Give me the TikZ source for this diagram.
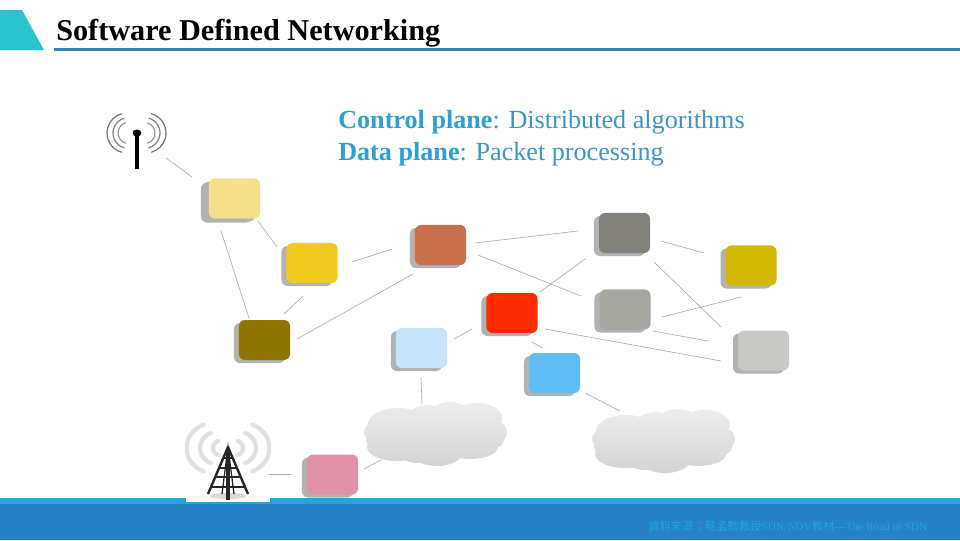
\documentclass[tikz,border=0pt]{standalone}
\usepackage{fontspec}
\setmainfont{Liberation Serif}
\newfontfamily\cjkfont{Noto Sans CJK TC}
\usepackage{xcolor}
\usepackage{tikz}
\usetikzlibrary{shadows}
\definecolor{swpale}{RGB}{245,223,138}
\definecolor{swyellow}{RGB}{242,202,31}
\definecolor{swbrown}{RGB}{201,111,74}
\definecolor{swdgrey}{RGB}{130,130,122}
\definecolor{swgold}{RGB}{210,184,0}
\definecolor{swmgrey}{RGB}{166,166,160}
\definecolor{swlgrey}{RGB}{200,200,196}
\definecolor{swred}{RGB}{255,42,0}
\definecolor{swsky}{RGB}{95,189,245}
\definecolor{swpblue}{RGB}{197,228,249}
\definecolor{swolive}{RGB}{143,116,0}
\definecolor{swpink}{RGB}{224,145,168}
\definecolor{boxshadow}{RGB}{178,178,178}
\definecolor{linkgrey}{RGB}{170,170,170}
\definecolor{hdrteal}{RGB}{42,195,206}
\definecolor{hdrblue}{RGB}{58,127,181}
\definecolor{ftcyan}{RGB}{28,169,224}
\definecolor{ftblue}{RGB}{38,129,198}
\definecolor{txtbold}{RGB}{46,159,214}
\definecolor{txtlight}{RGB}{60,150,196}
\tikzset{
  switchbox/.style={rectangle, fill=#1, rounded corners=0.15cm,
    minimum width=1.275cm, minimum height=1cm, inner sep=0pt, outer sep=0pt,
    general shadow={fill=boxshadow, shadow xshift=-0.125cm, shadow yshift=-0.075cm}},
  link/.style={color=linkgrey, line width=0.45pt},
  puffcloud/.pic={
    \shade[top color=gray!14, bottom color=gray!34]
      (-62,-2) ellipse [x radius=10, y radius=9]
      (-38,-10) ellipse [x radius=30, y radius=16]
      (-8,-14) ellipse [x radius=22, y radius=15]
      (14,-17) ellipse [x radius=22, y radius=15]
      (41,-16) ellipse [x radius=25, y radius=15]
      (62,-2) ellipse [x radius=9, y radius=10]
      (54,6) ellipse [x radius=14, y radius=9]
      (34,13) ellipse [x radius=28, y radius=12]
      (1,19) ellipse [x radius=25, y radius=13]
      (-18,16) ellipse [x radius=22, y radius=13]
      (-39,13) ellipse [x radius=30, y radius=14]
      (-58,6) ellipse [x radius=12, y radius=8]
      (0,0) ellipse [x radius=60, y radius=24];
  }
}
\begin{document}
\begin{tikzpicture}[x=0.025cm, y=-0.025cm]
  \useasboundingbox (0,0) rectangle (960,540);
  \fill[white] (0,0) rectangle (960,540);

  % Header
  \fill[hdrteal] (0,10) -- (22,10) -- (44,50) -- (0,50) -- cycle;
  \fill[hdrblue] (54,48) rectangle (960,50.5);
  \node[anchor=base west, inner sep=0pt, font=\fontsize{21.5}{25}\selectfont\bfseries] (title) at (56,40) {Software Defined Networking};

  % Footer
  \fill[ftcyan] (0,498) rectangle (960,504);
  \fill[ftblue] (0,504) rectangle (960,540);
  \fill[white] (186,490) rectangle (270,502);
  \node[anchor=base west, inner sep=0pt, text=ftcyan, font=\fontsize{8.05}{9}\selectfont] (source) at (648,530) {{\cjkfont 資料來源：蔡孟勳教授}SDN/NDV{\cjkfont 教材}—The Road to SDN};

  % Plane labels
  \node[anchor=base west, inner sep=0pt, text=txtlight, font=\fontsize{18.6}{22}\selectfont] (control) at (338,128) {\textcolor{txtbold}{\bfseries Control plane}: Distributed algorithms};
  \node[anchor=base west, inner sep=0pt, text=txtlight, font=\fontsize{18.6}{22}\selectfont] (data) at (338,160) {\textcolor{txtbold}{\bfseries Data plane}: Packet processing};

  % Wireless antenna
  \coordinate (antenna) at (137,140);
  \foreach \r/\c/\g in {20/127/55, 15.4/128.4/50, 10.6/128.6/40} {
    \draw[color=black!\g, line width=0.85pt] (\c,133) ++(105:\r) arc[start angle=105, end angle=255, radius=\r];
    \draw[color=black!\g, line width=0.85pt] (273-\c,133) ++(-75:\r) arc[start angle=-75, end angle=75, radius=\r];
  }
  \draw[black, line width=2.4pt] (137,133) -- (137,169);
  \fill[black] (137,133) ellipse [x radius=4.5, y radius=3.5];

  % Cell tower
  \coordinate (tower) at (228,460);
  \foreach \r/\c in {24.3/211, 15.7/215.7, 7.5/220.5} {
    \draw[color=black!12, line width=3pt, line cap=round] (\c,448) ++(108:\r) arc[start angle=108, end angle=252, radius=\r];
    \draw[color=black!12, line width=3pt, line cap=round] (456-\c,448) ++(-72:\r) arc[start angle=-72, end angle=72, radius=\r];
  }
  \fill[black!15] (228,496) ellipse [x radius=18, y radius=3];
  \draw[black!85, line width=1.7pt, line join=round] (208,494) -- (228,447) -- (248,494);
  \draw[black!85, line width=0.9pt] (222,494) -- (228,447) -- (234,494);
  \draw[black!85, line width=2.6pt] (228,449) -- (228,500);
  \draw[black!85, line width=1.1pt] (223.3,458) -- (232.7,458);
  \draw[black!85, line width=1.1pt] (219,468) -- (237,468);
  \draw[black!85, line width=1.1pt] (215.2,477) -- (240.8,477);
  \draw[black!85, line width=1.1pt] (211,487) -- (245,487);

  % Clouds
  \coordinate (cloudA) at (436,434);
  \coordinate (cloudB) at (664,441);
  \pic at (cloudA) {puffcloud};
  \pic at (cloudB) {puffcloud};

  % Switches
  \node[switchbox=swpale, general shadow={fill=boxshadow, shadow xshift=-0.2cm, shadow yshift=-0.1cm}] (pale) at (234.5,198.5) {};
  \node[switchbox=swyellow] (yellow) at (312,263) {};
  \node[switchbox=swbrown] (brown) at (440.5,245) {};
  \node[switchbox=swdgrey] (dgrey) at (624.5,233) {};
  \node[switchbox=swgold] (gold) at (751,265.5) {};
  \node[switchbox=swmgrey] (mgrey) at (625,309.5) {};
  \node[switchbox=swlgrey] (lgrey) at (763.5,350.5) {};
  \node[switchbox=swred] (red) at (512,313) {};
  \node[switchbox=swsky] (sky) at (554.5,373) {};
  \node[switchbox=swpblue] (pblue) at (421.5,348) {};
  \node[switchbox=swolive] (olive) at (264.5,340) {};
  \node[switchbox=swpink] (pink) at (332.5,474.5) {};

  % Links
  \draw[link] ([shift={(29,18)}]antenna) -- ([shift={(-42.5,-21.5)}]pale.center);
  \draw[link] ([shift={(23.5,22.5)}]pale.center) -- ([shift={(-35,-16)}]yellow.center);
  \draw[link] ([shift={(-13.5,32.5)}]pale.center) -- ([shift={(-15.5,-22)}]olive.center);
  \draw[link] ([shift={(40,-1)}]yellow.center) -- ([shift={(-48.5,4)}]brown.center);
  \draw[link] ([shift={(-9,33)}]yellow.center) -- ([shift={(19.5,-26)}]olive.center);
  \draw[link] ([shift={(32.5,-1)}]olive.center) -- ([shift={(-27.5,29)}]brown.center);
  \draw[link] ([shift={(34.5,-2)}]brown.center) -- ([shift={(-46.5,-2)}]dgrey.center);
  \draw[link] ([shift={(37.5,10)}]brown.center) -- ([shift={(-44,-13.5)}]mgrey.center);
  \draw[link] ([shift={(28,-21)}]red.center) -- ([shift={(-39.5,26)}]dgrey.center);
  \draw[link] ([shift={(32.5,-9)}]pblue.center) -- ([shift={(-40,16)}]red.center);
  \draw[link] ([shift={(20,29)}]red.center) -- ([shift={(-11.5,-25)}]sky.center);
  \draw[link] ([shift={(33,16)}]red.center) -- ([shift={(-42.5,10.5)}]lgrey.center);
  \draw[link] ([shift={(36.5,8)}]dgrey.center) -- ([shift={(-47,-12.5)}]gold.center);
  \draw[link] ([shift={(29.5,29)}]dgrey.center) -- ([shift={(-42.5,-23.5)}]lgrey.center);
  \draw[link] ([shift={(37,7.5)}]mgrey.center) -- ([shift={(-10,31.5)}]gold.center);
  \draw[link] ([shift={(28,21.5)}]mgrey.center) -- ([shift={(-55.5,-9.5)}]lgrey.center);
  \draw[link] ([shift={(30.5,20)}]sky.center) -- ([shift={(-44,-30)}]cloudB);
  \draw[link] ([shift={(-0.5,30)}]pblue.center) -- ([shift={(-14,-30)}]cloudA);
  \draw[link] ([shift={(31.5,-5.5)}]pink.center) -- ([shift={(-55,26)}]cloudA);
  \draw[link] ([shift={(41,14)}]tower) -- ([shift={(-41.5,-0.5)}]pink.center);
\end{tikzpicture}
\end{document}
